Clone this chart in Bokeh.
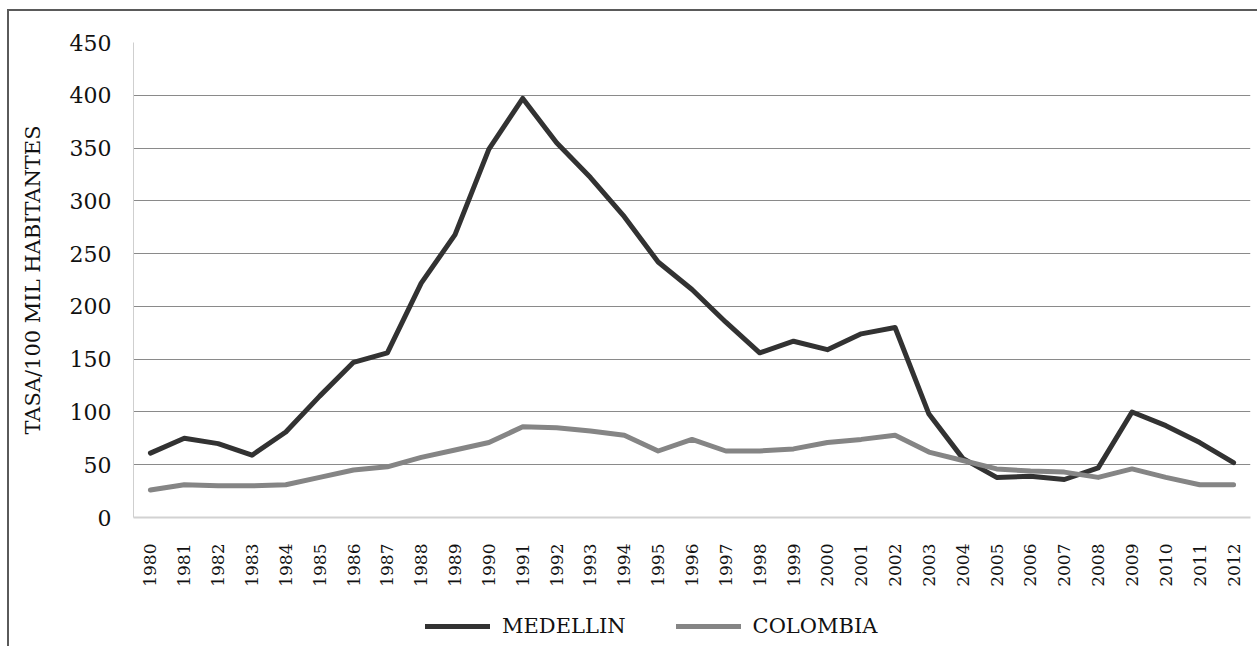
import math
from bokeh.plotting import figure
from bokeh.layouts import column
from bokeh.models import FactorRange, Range1d, SingleIntervalTicker, Legend, LegendItem
from bokeh.embed import file_html
from bokeh.resources import INLINE

years = [str(y) for y in range(1980, 2013)]
medellin = [61, 75, 70, 59, 81, 115, 147, 156, 222, 268, 349, 397, 355, 322, 285,
            242, 216, 185, 156, 167, 159, 174, 180, 98, 56, 38, 39, 36, 47, 100,
            87, 71, 52]
colombia = [26, 31, 30, 30, 31, 38, 45, 48, 57, 64, 71, 86, 85, 82, 78,
            63, 74, 63, 63, 65, 71, 74, 78, 62, 54, 46, 44, 43, 38, 46,
            38, 31, 31]
y_label = "TASA/100 MIL HABITANTES"
series_names = ["MEDELLIN", "COLOMBIA"]

FONT = "DejaVu Serif"
TXT = "#111111"
C_MED = "#323232"
C_COL = "#858585"

p = figure(width=1248, height=585, x_range=FactorRange(*years, range_padding=0),
           y_range=Range1d(0, 450), output_backend="svg", toolbar_location=None,
           min_border_left=124, min_border_top=31, min_border_right=7,
           min_border_bottom=79)
p.outline_line_color = None
p.background_fill_color = "white"
p.border_fill_color = "white"

p.line(years, medellin, line_color=C_MED, line_width=5, line_join="round", line_cap="round")
p.line(years, colombia, line_color=C_COL, line_width=5, line_join="round", line_cap="round")

# grid
p.xgrid.grid_line_color = None
p.ygrid.grid_line_color = "#8a8a8a"
p.ygrid.grid_line_width = 1
p.yaxis.ticker = SingleIntervalTicker(interval=50)

# y axis
ya = p.yaxis[0]
ya.axis_line_color = "#cfcfcf"
ya.axis_line_width = 1
ya.major_tick_line_color = None
ya.minor_tick_line_color = None
ya.major_label_text_font = FONT
ya.major_label_text_font_size = "22px"
ya.major_label_text_color = TXT
ya.major_label_standoff = 16
ya.axis_label = y_label
ya.axis_label_text_font = FONT
ya.axis_label_text_font_size = "21px"
ya.axis_label_text_font_style = "normal"
ya.axis_label_text_color = TXT
ya.axis_label_standoff = 22

# x axis
xa = p.xaxis[0]
xa.axis_line_color = "#d2d2d2"
xa.axis_line_width = 2
xa.major_tick_line_color = None
xa.minor_tick_line_color = None
xa.major_label_orientation = math.pi / 2
xa.major_label_text_font = FONT
xa.major_label_text_font_size = "17px"
xa.major_label_text_color = TXT
xa.major_label_standoff = 20

# legend strip (lines kept out of view; only the legend is shown)
lf = figure(width=1248, height=50, x_range=FactorRange(*years),
            y_range=Range1d(1000, 1001), output_backend="svg", toolbar_location=None,
            x_axis_location=None, y_axis_location=None,
            min_border_left=0, min_border_right=0, min_border_top=0, min_border_bottom=0)
lf.outline_line_color = None
lf.xgrid.grid_line_color = None
lf.ygrid.grid_line_color = None
l1 = lf.line(years, medellin, line_color=C_MED, line_width=5, line_cap="round")
l2 = lf.line(years, colombia, line_color=C_COL, line_width=5, line_cap="round")

legend = Legend(items=[LegendItem(label=series_names[0], renderers=[l1]),
                       LegendItem(label=series_names[1], renderers=[l2])],
                orientation="horizontal", location=(292, 8),
                padding=0, margin=0, spacing=50, glyph_width=65, glyph_height=20,
                label_standoff=12, label_text_font=FONT,
                label_text_font_size="21px", label_text_color=TXT,
                border_line_color=None, background_fill_alpha=0)
lf.add_layout(legend, "center")

layout = column(p, lf, spacing=0,
                styles={"border-left": "2px solid #5a5a5a", "border-top": "2px solid #5a5a5a",
                        "position": "relative", "left": "7px", "top": "9px"})

open("out.html", "w").write(file_html(layout, INLINE))
